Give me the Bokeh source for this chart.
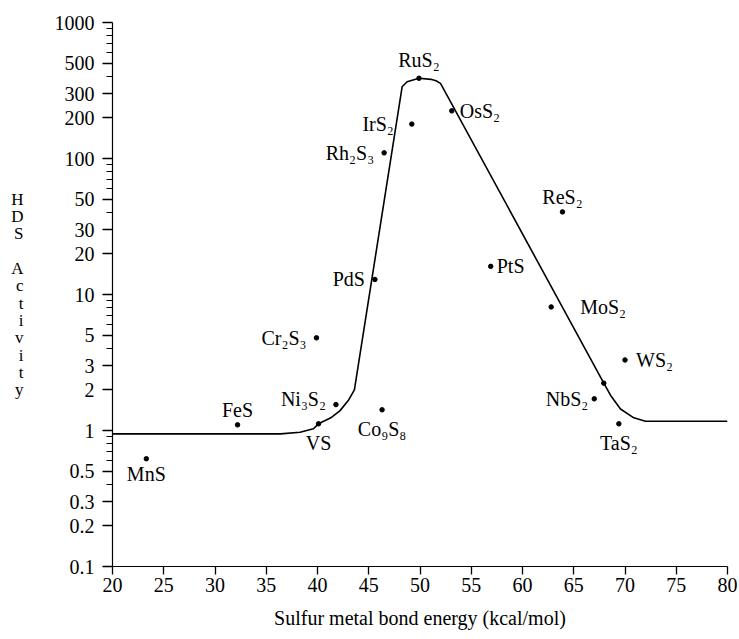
from bokeh.plotting import figure
from bokeh.models import Range1d, FixedTicker, CustomJSTickFormatter, ColumnDataSource
from bokeh.core.properties import value
from bokeh.embed import file_html
from bokeh.resources import INLINE

# ---------------- data ----------------
compounds = ["MnS", "FeS", "VS", "Ni₃S₂", "Cr₂S₃", "Co₉S₈", "PdS", "Rh₂S₃", "IrS₂",
             "RuS₂", "OsS₂", "PtS", "ReS₂", "MoS₂", "NbS₂", "TaS₂", "WS₂", ""]
bond_energy = [23.3, 32.2, 40.1, 41.8, 39.9, 46.3, 45.6, 46.5, 49.2,
               49.9, 53.1, 56.9, 63.9, 62.8, 67.0, 69.4, 70.0, 67.93]
hds_activity = [0.62, 1.10, 1.12, 1.55, 4.8, 1.42, 12.9, 110, 179,
                389, 224, 16.1, 40.5, 8.1, 1.71, 1.12, 3.3, 2.23]
label_side = ["below", "above", "below", "left", "left", "below", "left", "left", "left",
              "above", "right", "right", "above", "right", "left", "below", "right", "none"]

trend_x = [20, 36.4, 38.3, 39.6, 40.1, 41.3, 42.2, 43.0, 43.6, 48.26, 48.74, 49.9,
           51.07, 51.56, 52.0, 67.93, 68.6, 69.56, 70.86, 72.0, 80]
trend_y = [0.945, 0.945, 0.972, 1.03, 1.12, 1.24, 1.40, 1.66, 1.99, 337, 367, 389,
           382, 373, 357, 2.23, 1.81, 1.44, 1.24, 1.17, 1.17]

x_ticks = [20, 25, 30, 35, 40, 45, 50, 55, 60, 65, 70, 75, 80]
y_ticks = [0.1, 0.2, 0.3, 0.5, 1, 2, 3, 5, 10, 20, 30, 50, 100, 200, 300, 500, 1000]
y_minor_ticks = [0.4, 0.6, 0.7, 0.8, 0.9, 4, 6, 7, 8, 9, 40, 60, 70, 80, 90,
                 400, 600, 700, 800, 900]

x_title = "Sulfur metal bond energy (kcal/mol)"
y_title = "HDS Activity"

# ---------------- styling ----------------
FONT = "Liberation Serif"
side_style = {
    "left": (-10, 0, "right"),
    "right": (8, 0, "left"),
    "above": (0, -15, "center"),
    "below": (0, 19, "center"),
}
label_adjust = {"IrS₂": (-18, 0), "MoS₂": (29, 0), "Ni₃S₂": (-10, -6), "NbS₂": (-6, 0),
                "RuS₂": (0, -18), "MnS": (0, 15), "PtS": (6, 0), "WS₂": (11, 0)}

p = figure(width=739, height=639, output_backend="svg", toolbar_location=None,
           y_axis_type="log", x_range=Range1d(20, 80), y_range=Range1d(0.1, 1000),
           min_border_left=112, min_border_right=12, min_border_top=22, min_border_bottom=73)
p.xgrid.visible = False
p.ygrid.visible = False
p.outline_line_color = None
p.background_fill_color = "white"
p.border_fill_color = "white"

p.xaxis.ticker = FixedTicker(ticks=x_ticks, minor_ticks=[])
p.yaxis.ticker = FixedTicker(ticks=y_ticks, minor_ticks=y_minor_ticks)
p.yaxis.formatter = CustomJSTickFormatter(code="return String(tick);")

for ax in (p.xaxis[0], p.yaxis[0]):
    ax.axis_line_color = "black"
    ax.axis_line_width = 1.2
    ax.major_tick_line_color = "black"
    ax.major_tick_line_width = 1.3
    ax.minor_tick_line_color = "black"
    ax.minor_tick_line_width = 1.2
    ax.major_tick_in = 0
    ax.minor_tick_in = 0
    ax.major_label_text_font = FONT
    ax.major_label_text_font_size = "20px"
    ax.major_label_text_color = "black"
    ax.axis_label_text_font = FONT
    ax.axis_label_text_font_style = "normal"
    ax.axis_label_text_color = "black"

p.xaxis.major_tick_out = 8
p.xaxis.major_label_standoff = 3
p.xaxis.axis_label = x_title
p.xaxis.axis_label_text_font_size = "20px"
p.xaxis.axis_label_standoff = 12

p.yaxis.major_tick_out = 10
p.yaxis.minor_tick_out = 6
p.yaxis.major_label_standoff = 8
p.yaxis.axis_label = "\n".join(y_title).replace(" ", "")
p.yaxis.axis_label_orientation = "horizontal"
p.yaxis.axis_label_text_font_size = "17px"
p.yaxis.axis_label_text_line_height = 0.91
p.yaxis.axis_label_standoff = 28

p.line(trend_x, trend_y, line_color="black", line_width=1.6)
p.scatter(bond_energy, hds_activity, size=4.5, color="black")

for side, (dx0, dy0, align) in side_style.items():
    xs, ys, ts, dxs, dys = [], [], [], [], []
    for name, xv, yv, s in zip(compounds, bond_energy, hds_activity, label_side):
        if s != side:
            continue
        dx, dy = label_adjust.get(name, (dx0, dy0))
        xs.append(xv); ys.append(yv); ts.append(name); dxs.append(dx); dys.append(dy)
    src = ColumnDataSource(dict(x=xs, y=ys, text=ts, dx=dxs, dy=dys))
    p.text(x="x", y="y", text="text", x_offset="dx", y_offset="dy", source=src,
           text_font=value(FONT), text_font_size="20px", text_color="black",
           text_align=align, text_baseline="middle")

open("out.html", "w").write(file_html(p, INLINE))
